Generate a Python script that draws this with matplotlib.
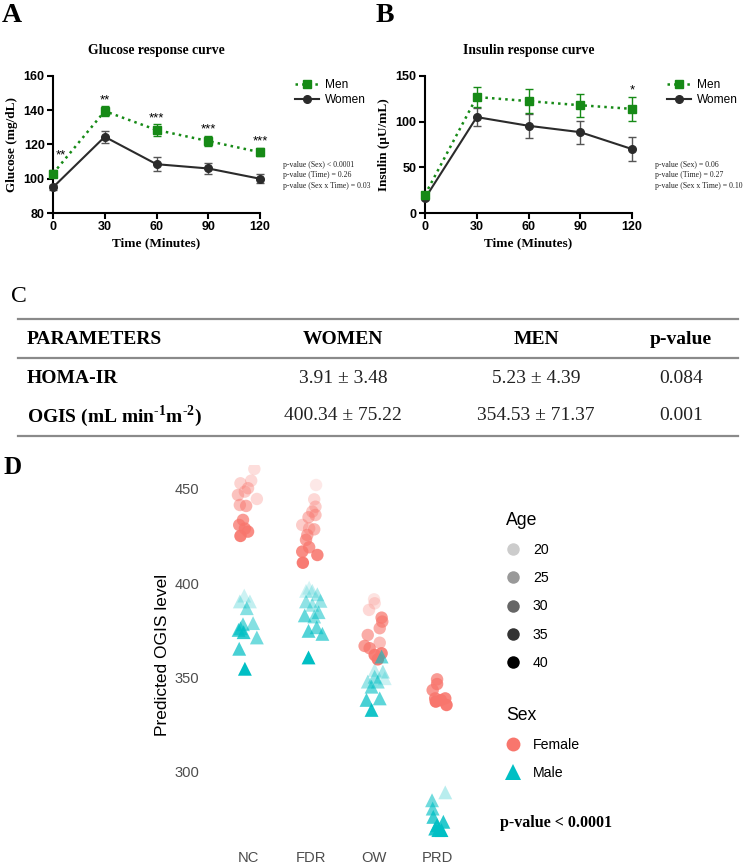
import matplotlib
matplotlib.use('Agg')
import matplotlib.pyplot as plt
from matplotlib.lines import Line2D
import numpy as np

plt.rcParams['mathtext.fontset'] = 'custom'
plt.rcParams['mathtext.rm'] = 'Liberation Serif:bold'
plt.rcParams['mathtext.bf'] = 'Liberation Serif:bold'

W, H = 748, 868
SERIF = 'Liberation Serif'
SANS = 'Liberation Sans'
GREEN = '#168a16'
DARK = '#2b2b2b'
FEMALE = '#F8766D'
MALE = '#00BFC4'

# ---- panel A / B data (mean, error bar) ----
times = [0, 30, 60, 90, 120]
glucose_men = [103, 139.5, 128.5, 122, 115.5]
glucose_men_err = [2, 3, 3.5, 3, 2.5]
glucose_women = [95, 124.5, 108.5, 106, 100]
glucose_women_err = [1.5, 3.5, 4, 3, 2.5]
glucose_stars = ['**', '**', '***', '***', '***']
glucose_pvals = ['p-value (Sex) < 0.0001', 'p-value (Time) = 0.26', 'p-value (Sex x Time) = 0.03']

insulin_men = [20, 127, 122.5, 118, 114]
insulin_men_err = [3, 11, 13.5, 12.5, 13.5]
insulin_women = [16, 105, 95.5, 88.5, 70]
insulin_women_err = [2, 10, 13, 12.5, 13]
insulin_stars = ['', '', '', '', '*']
insulin_pvals = ['p-value (Sex) = 0.06', 'p-value (Time) = 0.27', 'p-value (Sex x Time) = 0.10']

# ---- panel C table ----
table_header = ['PARAMETERS', 'WOMEN', 'MEN', 'p-value']
table_rows = ['HOMA-IR', r'OGIS (mL min$^{\mathbf{\text{-}1}}$m$^{\mathbf{\text{-}2}}$)']
women_vals = ['3.91 \u00b1 3.48', '400.34 \u00b1 75.22']
men_vals = ['5.23 \u00b1 4.39', '354.53 \u00b1 71.37']
table_p = ['0.084', '0.001']

# ---- panel D data ----
groups = ['NC', 'FDR', 'OW', 'PRD']
female_group = ['NC'] * 14 + ['FDR'] * 15 + ['OW'] * 13 + ['PRD'] * 8
female_ogis = [460.6, 454.4, 453.0, 450.4, 446.8, 448.6, 444.7, 441.5, 441.0, 433.6, 430.9, 427.4, 425.1, 429.0,
               452.1, 444.5, 440.6, 438.0, 435.0, 436.2, 430.9, 429.1, 428.6, 425.6, 423.0, 419.1, 416.8, 415.0, 410.9,
               391.5, 389.4, 385.9, 381.8, 379.7, 376.2, 372.6, 368.5, 366.8, 362.9, 362.0, 359.7, 365.6,
               349.1, 346.6, 343.4, 339.0, 339.0, 338.1, 335.5, 337.3]
female_age = [21, 22, 23, 25, 26, 24, 22, 27, 29, 33, 34, 36, 38, 35,
              19, 22, 24, 25, 27, 26, 24, 25, 28, 30, 32, 34, 36, 37, 39,
              20, 21, 22, 33, 32, 30, 30, 27, 33, 37, 38, 39, 34,
              33, 35, 34, 36, 37, 38, 39, 40]
female_jitter = [0.10, 0.05, -0.12, 0.00, -0.16, -0.05, 0.14, -0.13, -0.03, -0.08, -0.14, 0.00, -0.12, -0.05,
                 0.08, 0.05, 0.07, 0.02, -0.04, 0.07, -0.14, -0.03, 0.05, -0.06, -0.08, -0.03, -0.14, 0.10, -0.13,
                 0.00, 0.01, -0.08, 0.12, 0.13, 0.09, -0.10, 0.09, -0.15, 0.12, 0.01, 0.06, -0.07,
                 0.00, 0.00, -0.07, -0.03, 0.13, 0.06, 0.15, -0.02]

male_group = ['NC'] * 12 + ['FDR'] * 14 + ['OW'] * 11 + ['PRD'] * 9
male_ogis = [393.5, 390.4, 390.4, 386.8, 378.3, 378.9, 375.3, 374.1, 371.3, 365.3, 354.7, 376.2,
             397.7, 396.0, 396.0, 394.2, 390.7, 390.4, 388.6, 384.7, 383.0, 382.4, 374.8, 376.7, 373.2, 360.7,
             361.2, 354.1, 353.2, 349.7, 347.9, 347.9, 345.2, 338.2, 339.0, 332.9, 350.5,
             289.2, 285.0, 280.6, 276.2, 273.6, 271.8, 269.2, 270.0, 269.2]
male_age = [20, 21, 22, 27, 30, 27, 33, 35, 29, 33, 40, 31,
            19, 20, 21, 23, 25, 26, 24, 28, 30, 27, 32, 30, 31, 40,
            30, 21, 24, 20, 25, 27, 30, 33, 31, 38, 26,
            22, 29, 31, 34, 36, 38, 39, 37, 40]
male_jitter = [-0.06, 0.03, -0.13, -0.02, -0.08, 0.08, -0.15, -0.07, 0.14, -0.14, -0.05, -0.12,
               -0.03, -0.08, 0.02, 0.10, 0.15, -0.08, 0.02, 0.12, -0.10, 0.05, -0.04, 0.09, 0.18, -0.04,
               0.12, 0.01, 0.14, 0.17, -0.10, 0.06, -0.04, -0.12, 0.09, -0.04, 0.01,
               0.13, -0.08, -0.07, -0.06, 0.10, 0.00, 0.02, -0.03, 0.07]
age_breaks = [20, 25, 30, 35, 40]


def age_alpha(age):
    return np.clip(0.2 + 0.04 * (np.asarray(age, dtype=float) - 20), 0.1, 1.0)


def px_axes(l, t, r, b):
    return fig.add_axes([l / W, 1 - b / H, (r - l) / W, (b - t) / H])


fig = plt.figure(figsize=(W / 100, H / 100), dpi=100)


def curve_panel(ax, men, men_err, women, women_err, stars, pvals, ylim, yticks, ylabel, title, star_first):
    ax.errorbar(times, women, yerr=women_err, fmt='-o', color=DARK, ecolor='#555555', lw=1.5,
                markersize=5.5, capsize=3, elinewidth=1, clip_on=False, zorder=3)
    ax.errorbar(times, men, yerr=men_err, fmt=':s', color=GREEN, ecolor=GREEN, lw=1.8,
                markersize=5.5, capsize=3, elinewidth=1, clip_on=False, zorder=4)
    for i, s in enumerate(stars):
        if not s:
            continue
        off = (6, 6) if (i == 0 and star_first) else (0, 0)
        ax.annotate(s, (times[i], men[i] + men_err[i]), xytext=off, textcoords='offset points',
                    ha='center', va='bottom', fontsize=9.5, family=SANS)
    ax.set_xlim(0, 120)
    ax.set_ylim(*ylim)
    ax.set_xticks(times)
    ax.set_yticks(yticks)
    for sp in ['top', 'right']:
        ax.spines[sp].set_visible(False)
    for sp in ['left', 'bottom']:
        ax.spines[sp].set_linewidth(1.5)
    ax.tick_params(direction='out', length=4, width=1.5, pad=2)
    for lab in ax.get_xticklabels() + ax.get_yticklabels():
        lab.set_fontfamily(SANS)
        lab.set_fontweight('bold')
        lab.set_fontsize(9)
    ax.set_xlabel('Time (Minutes)', family=SERIF, fontweight='bold', fontsize=9.5, labelpad=3)
    ax.set_ylabel(ylabel, family=SERIF, fontweight='bold', fontsize=9.5, labelpad=4)
    ax.set_title(title, family=SERIF, fontweight='bold', fontsize=9.8, pad=16)
    handles = [Line2D([], [], color=GREEN, ls=':', lw=1.8, marker='s', markersize=5.5),
               Line2D([], [], color=DARK, ls='-', lw=1.5, marker='o', markersize=5.5)]
    ax.legend(handles, ['Men', 'Women'], loc='upper left', bbox_to_anchor=(1.17, 0.98),
              frameon=False, prop={'family': SANS, 'size': 8.6}, handlelength=2.0,
              handletextpad=0.5, labelspacing=0.25, borderpad=0, borderaxespad=0)
    ax.text(1.11, 0.38, '\n'.join(pvals), transform=ax.transAxes, ha='left', va='top',
            family=SERIF, fontsize=5.6, linespacing=1.4, color='#222222')


axA = px_axes(53, 76, 260, 213)
curve_panel(axA, glucose_men, glucose_men_err, glucose_women, glucose_women_err, glucose_stars,
            glucose_pvals, (80, 160), [80, 100, 120, 140, 160], 'Glucose (mg/dL)',
            'Glucose response curve', True)
axB = px_axes(425, 76, 632, 213)
curve_panel(axB, insulin_men, insulin_men_err, insulin_women, insulin_women_err, insulin_stars,
            insulin_pvals, (0, 150), [0, 50, 100, 150], 'Insulin (\u00b5U/mL)',
            'Insulin response curve', False)

fig.text(2 / W, 1 - 16 / H, 'A', family=SERIF, fontweight='bold', fontsize=20, va='center')
fig.text(376 / W, 1 - 16 / H, 'B', family=SERIF, fontweight='bold', fontsize=20, va='center')
fig.text(11 / W, 1 - 297 / H, 'C', family=SERIF, fontsize=17, va='center')
fig.text(4 / W, 1 - 468 / H, 'D', family=SERIF, fontweight='bold', fontsize=18, va='center')

# ---- panel C ----
for yy in [319, 358, 436]:
    fig.add_artist(Line2D([18 / W, 738 / W], [1 - yy / H, 1 - yy / H], color='#8a8a8a', lw=1.6))
col_x = [27, 343, 536, 681]
for j, h in enumerate(table_header):
    fig.text(col_x[j] / W, 1 - 340 / H, h, family=SERIF, fontweight='bold', fontsize=14,
             ha='left' if j == 0 else 'center', va='center')
row_y = [378, 416]
for i, r in enumerate(table_rows):
    fig.text(col_x[0] / W, 1 - row_y[i] / H, r, family=SERIF, fontweight='bold', fontsize=14,
             ha='left', va='center')
    for j, v in enumerate([women_vals[i], men_vals[i], table_p[i]]):
        fig.text(col_x[j + 1] / W, 1 - row_y[i] / H, v, family=SERIF, fontsize=14,
                 ha='center', va='center', color='#222222')

# ---- panel D ----
axD = px_axes(205, 465, 490, 845)
gidx = {g: i for i, g in enumerate(groups)}
fx = np.array([gidx[g] for g in female_group]) + np.array(female_jitter)
mx = np.array([gidx[g] for g in male_group]) + np.array(male_jitter)
fcol = np.zeros((len(fx), 4))
fcol[:] = matplotlib.colors.to_rgba(FEMALE)
fcol[:, 3] = age_alpha(female_age)
mcol = np.zeros((len(mx), 4))
mcol[:] = matplotlib.colors.to_rgba(MALE)
mcol[:, 3] = age_alpha(male_age)
axD.scatter(fx, female_ogis, s=80, marker='o', c=fcol, edgecolors='none')
axD.scatter(mx, male_ogis, s=100, marker='^', c=mcol, edgecolors='none')
axD.set_xlim(-0.683, 3.84)
axD.set_ylim(261.3, 462.7)
axD.set_xticks(range(len(groups)))
axD.set_xticklabels(groups)
axD.set_yticks([300, 350, 400, 450])
for sp in axD.spines.values():
    sp.set_visible(False)
axD.tick_params(length=0, labelsize=10.6, labelcolor='#4d4d4d', pad=4)
for lab in axD.get_xticklabels() + axD.get_yticklabels():
    lab.set_fontfamily(SANS)
axD.set_ylabel('Predicted OGIS level', family=SANS, fontsize=12.5, labelpad=3)

age_handles = [Line2D([], [], ls='', marker='o', markersize=9, markeredgewidth=0,
                      color=(0, 0, 0, float(age_alpha(a)))) for a in age_breaks]
leg1 = axD.legend(age_handles, [str(a) for a in age_breaks], title='Age', loc='upper left',
                  bbox_to_anchor=(506 / W, 1 - 512 / H), bbox_transform=fig.transFigure,
                  frameon=False, prop={'family': SANS, 'size': 10.2}, handlelength=1.0,
                  handletextpad=0.9, labelspacing=1.0, borderpad=0, borderaxespad=0,
                  alignment='left', title_fontproperties={'family': SANS, 'size': 12.7})
axD.add_artist(leg1)
sex_handles = [Line2D([], [], ls='', marker='o', markersize=10, markeredgewidth=0, color=FEMALE),
               Line2D([], [], ls='', marker='^', markersize=11, markeredgewidth=0, color=MALE)]
axD.legend(sex_handles, ['Female', 'Male'], title='Sex', loc='upper left',
           bbox_to_anchor=(506 / W, 1 - 707 / H), bbox_transform=fig.transFigure,
           frameon=False, prop={'family': SANS, 'size': 10.2}, handlelength=1.0,
           handletextpad=0.9, labelspacing=1.0, borderpad=0, borderaxespad=0,
           alignment='left', title_fontproperties={'family': SANS, 'size': 12.7})
fig.text(500 / W, 1 - 823 / H, 'p-value < 0.0001', family=SERIF, fontweight='bold', fontsize=11.5,
         va='center')

fig.savefig('out.png', dpi=100)
